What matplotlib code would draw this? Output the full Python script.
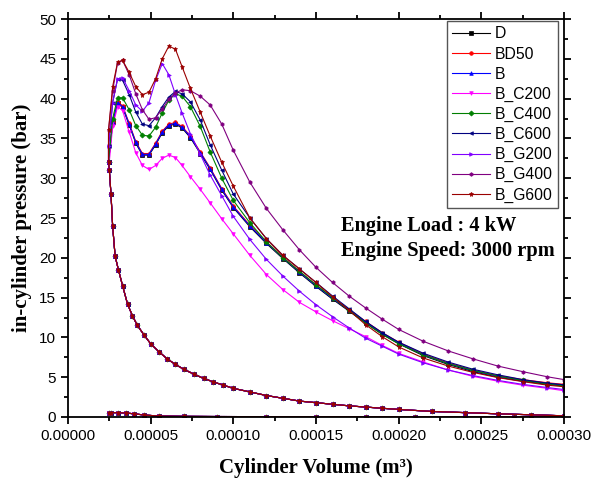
import matplotlib
matplotlib.use('Agg')
import matplotlib.pyplot as plt
from matplotlib.ticker import MultipleLocator, FuncFormatter

plt.rcParams['font.family'] = ['Liberation Sans', 'DejaVu Sans']

# cylinder volume in units of 1e-5 m3
# compression stroke (shared by all fuels), BDC -> TDC
comp_v = [30, 28, 26, 24, 22, 20, 19, 18, 17, 16, 15, 14, 13, 12, 11, 10, 9.4, 8.8, 8.2, 7.6,
          7.0, 6.5, 6.0, 5.5, 5.0, 4.6, 4.2, 3.9, 3.6, 3.3, 3.05, 2.85, 2.7, 2.6, 2.5, 2.45]
comp_p = [0.15, 0.28, 0.4, 0.55, 0.7, 0.95, 1.1, 1.25, 1.4, 1.6, 1.8, 2.0, 2.35, 2.7, 3.15, 3.6,
          4.0, 4.4, 4.85, 5.4, 6.0, 6.6, 7.3, 8.2, 9.2, 10.3, 11.5, 12.7, 14.2, 16.5, 18.5, 20.2,
          24.0, 28.0, 31.0, 32.0]

# combustion + expansion, TDC -> BDC
exp_v = [2.45, 2.7, 3.0, 3.3, 3.7, 4.1, 4.5, 4.9, 5.3, 5.7, 6.1, 6.5, 6.9, 7.4, 8.0, 8.6, 9.3, 10,
         11, 12, 13, 14, 15, 16, 17, 18, 19, 20, 21.5, 23, 24.5, 26, 27.5, 29, 30]

p_D = [32, 37, 39.4, 38.9, 36.7, 34.4, 32.9, 32.9, 34.2, 35.7, 36.6, 36.8, 36.3, 35.1, 33.1, 31.1,
       28.5, 26.3, 23.9, 21.8, 19.9, 18.1, 16.4, 14.8, 13.3, 11.8, 10.4, 9.2, 7.7, 6.6, 5.7, 5.0,
       4.5, 4.1, 3.9]
p_BD50 = [32, 37, 39.6, 39.1, 36.9, 34.6, 33.1, 33.1, 34.4, 35.9, 36.8, 37.0, 36.5, 35.3, 33.3, 31.3,
          28.7, 26.5, 24.1, 22.0, 20.1, 18.3, 16.6, 15.0, 13.5, 12.0, 10.6, 9.4, 7.9, 6.8, 5.9, 5.2,
          4.7, 4.3, 4.1]
p_B = [32, 37, 39.5, 39.0, 36.8, 34.5, 33.0, 33.0, 34.3, 35.8, 36.7, 36.9, 36.4, 35.2, 33.2, 31.2,
       28.6, 26.4, 24.0, 21.9, 20.0, 18.2, 16.5, 14.9, 13.4, 11.9, 10.5, 9.3, 7.8, 6.7, 5.8, 5.1,
       4.6, 4.2, 4.0]
p_C200 = [31, 36.5, 39.0, 38.5, 35.8, 33.2, 31.6, 31.1, 31.6, 32.5, 32.9, 32.6, 31.6, 30.2, 28.6, 26.9,
          24.9, 23.0, 20.3, 17.9, 16.0, 14.4, 13.2, 12.1, 11.1, 10.1, 9.0, 8.0, 6.9, 5.9, 5.1, 4.5,
          4.0, 3.6, 3.3]
p_C400 = [32, 37.5, 40.1, 40.1, 38.6, 36.6, 35.4, 35.3, 36.4, 38.2, 39.8, 40.6, 40.3, 39.0, 36.5, 33.3,
          30.0, 27.2, 24.4, 22.0, 20.0, 18.3, 16.6, 15.0, 13.4, 11.8, 10.4, 9.2, 7.8, 6.7, 5.85, 5.15,
          4.6, 4.15, 3.9]
p_C600 = [34, 39.5, 42.5, 42.3, 40.5, 38.3, 36.8, 36.6, 37.6, 39.0, 40.2, 40.9, 40.6, 39.6, 37.3, 34.2,
          31.0, 28.0, 25.0, 22.4, 20.3, 18.6, 16.9, 15.2, 13.6, 12.0, 10.6, 9.4, 8.0, 6.9, 6.0, 5.3,
          4.7, 4.25, 4.05]
p_G200 = [34, 39.5, 42.5, 42.6, 41.0, 39.2, 38.4, 39.5, 42.3, 44.4, 43.0, 40.5, 38.2, 35.6, 33.0, 30.4,
          27.8, 25.2, 22.3, 19.8, 17.7, 15.8, 14.1, 12.6, 11.2, 9.9, 8.9, 7.9, 6.8, 5.9, 5.2, 4.6,
          4.1, 3.7, 3.45]
p_G400 = [36, 41, 44.5, 44.8, 43.0, 40.6, 38.6, 37.4, 37.6, 38.7, 39.9, 40.7, 41.1, 41.0, 40.3, 39.2,
          36.8, 33.5, 29.5, 26.2, 23.5, 21.0, 18.8, 16.9, 15.2, 13.7, 12.3, 11.0, 9.5, 8.3, 7.3, 6.4,
          5.7, 5.05, 4.7]
p_G600 = [36, 41.5, 44.6, 44.8, 43.3, 41.5, 40.5, 40.8, 42.5, 45.0, 46.6, 46.2, 44.0, 41.3, 38.3, 35.3,
          32.0, 29.0, 25.0, 22.4, 20.3, 18.6, 16.9, 15.1, 13.4, 11.6, 10.1, 8.8, 7.4, 6.4, 5.6, 4.95,
          4.45, 4.0, 3.8]

# exhaust / intake strokes
gas_v = [30, 27, 24, 21, 18, 15, 12, 9, 7, 5.5, 4.6, 4.0, 3.5, 3.0, 2.6, 2.45]
gas_p = [0.05, 0.05, 0.05, 0.05, 0.05, 0.05, 0.05, 0.06, 0.08, 0.12, 0.25, 0.4, 0.5, 0.55, 0.55, 0.45]

labels = ['D', 'BD50', 'B', 'B_C200', 'B_C400', 'B_C600', 'B_G200', 'B_G400', 'B_G600']
series = [p_D, p_BD50, p_B, p_C200, p_C400, p_C600, p_G200, p_G400, p_G600]
colors = ['#000000', '#ff0000', '#0000ff', '#ff00ff', '#008000', '#000080', '#8000ff', '#800080', '#9a0000']
markers = ['s', 'o', '^', 'v', 'D', '<', '>', 'h', '*']

fig = plt.figure(figsize=(5.92, 4.82), dpi=100)
ax = fig.add_axes([68 / 592, 65 / 482, 496 / 592, 398 / 482])

sc = 1e-5
for lab, p, c, m in zip(labels, series, colors, markers):
    xs = [v * sc for v in comp_v + exp_v]
    ys = comp_p + p
    ms = 3.6 if m == '*' else 2.6
    ax.plot(xs, ys, color=c, marker=m, ms=ms, lw=0.8, mew=0.5, label=lab)
    ax.plot([v * sc for v in gas_v], gas_p, color=c, marker=m, ms=ms, lw=0.8, mew=0.5)

ax.set_xlim(0, 0.0003)
ax.set_ylim(0, 50)
ax.xaxis.set_major_locator(MultipleLocator(0.00005))
ax.xaxis.set_minor_locator(MultipleLocator(0.000025))
ax.yaxis.set_major_locator(MultipleLocator(5))
ax.yaxis.set_minor_locator(MultipleLocator(2.5))
ax.xaxis.set_major_formatter(FuncFormatter(lambda v, pos: '%.5f' % v))
ax.tick_params(which='both', direction='out', top=True, right=True, width=1.3, labelsize=11)
ax.tick_params(which='major', length=5)
ax.tick_params(which='minor', length=3)
for s in ax.spines.values():
    s.set_linewidth(1.3)

ax.set_xlabel('Cylinder Volume (m³)', family='Liberation Serif', fontweight='bold', fontsize=15, labelpad=11)
ax.set_ylabel('in-cylinder pressure (bar)', family='Liberation Serif', fontweight='bold', fontsize=15, labelpad=5)

ax.text(0.551, 0.481, 'Engine Load : 4 kW', transform=ax.transAxes, family='Liberation Serif',
        fontweight='bold', fontsize=14.7, va='center')
ax.text(0.551, 0.418, 'Engine Speed: 3000 rpm', transform=ax.transAxes, family='Liberation Serif',
        fontweight='bold', fontsize=14.7, va='center')

leg = ax.legend(loc='upper right', bbox_to_anchor=(0.988, 0.995), borderaxespad=0, fontsize=11.3,
                handlelength=2.4, labelspacing=0.32, fancybox=False, framealpha=1, edgecolor='#555555',
                borderpad=0.35, handletextpad=0.3)
leg.get_frame().set_linewidth(1.0)

fig.savefig('out.png', dpi=100)
